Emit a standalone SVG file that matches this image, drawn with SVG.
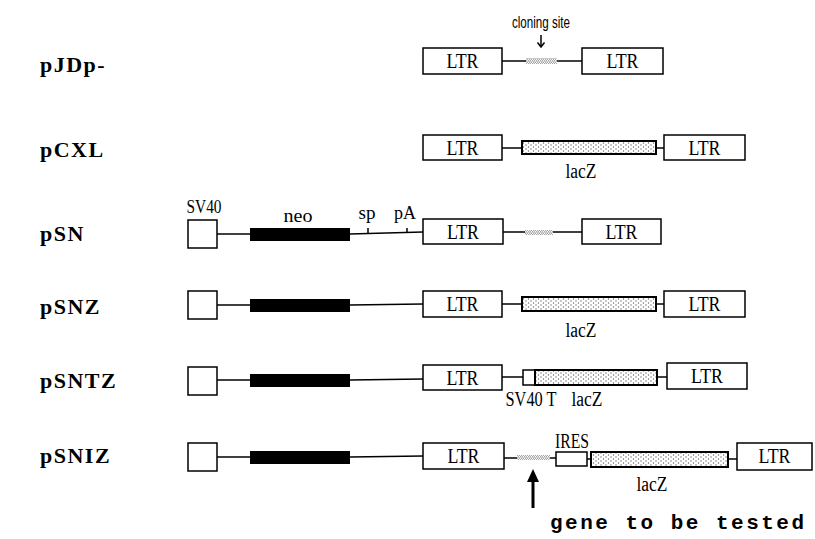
<svg xmlns="http://www.w3.org/2000/svg" width="815" height="539" viewBox="0 0 815 539">
<style>
.lbl{font-family:"Liberation Serif",serif;font-weight:bold;font-size:22px;letter-spacing:1.5px}
.sm{font-family:"Liberation Serif",serif;font-size:20px}
.box{fill:#fff;stroke:#000;stroke-width:1.5}
.ln{stroke:#000;stroke-width:1.5;fill:none}
.dot{fill:url(#dots);stroke:#000;stroke-width:2}
.neo{fill:#000}
.hatch{fill:url(#hat);stroke:none}
</style>
<defs>
<pattern id="dots" width="5" height="4" patternUnits="userSpaceOnUse">
<rect width="5" height="4" fill="#fff"/>
<circle cx="1" cy="1" r="0.7" fill="#666"/>
<circle cx="3.5" cy="3" r="0.7" fill="#666"/>
</pattern>
<pattern id="hat" width="4" height="3" patternUnits="userSpaceOnUse">
<rect width="4" height="3" fill="#fff"/>
<path d="M0 0 L2 3 M2 0 L4 3" stroke="#777" stroke-width="0.8"/>
</pattern>
</defs>

<g id="labels">
<text class="lbl" x="40" y="72">pJDp-</text>
<text class="lbl" x="40" y="157">pCXL</text>
<text class="lbl" x="40" y="241">pSN</text>
<text class="lbl" x="40" y="314">pSNZ</text>
<text class="lbl" x="40" y="388">pSNTZ</text>
<text class="lbl" x="40" y="463">pSNIZ</text>
</g>

<g id="connectors">
<line class="ln" x1="502" y1="61" x2="582" y2="61"/>
<line class="ln" x1="541" y1="35" x2="541" y2="47"/>
<path class="ln" d="M537.5 42.5 L541 47 L544.5 42.5"/>
<line class="ln" x1="502" y1="148" x2="522" y2="148"/>
<line class="ln" x1="656" y1="148" x2="664" y2="148"/>
<line class="ln" x1="217" y1="234" x2="250" y2="234"/>
<line class="ln" x1="350" y1="234" x2="423" y2="232"/>
<line class="ln" x1="368" y1="228" x2="368" y2="234"/>
<line class="ln" x1="407" y1="228" x2="407" y2="233"/>
<line class="ln" x1="502" y1="232" x2="582" y2="232"/>
<line class="ln" x1="217" y1="305" x2="250" y2="305"/>
<line class="ln" x1="350" y1="305" x2="423" y2="304"/>
<line class="ln" x1="502" y1="304" x2="522" y2="304"/>
<line class="ln" x1="656" y1="304" x2="664" y2="304"/>
<line class="ln" x1="217" y1="380" x2="250" y2="380"/>
<line class="ln" x1="350" y1="380" x2="423" y2="379"/>
<line class="ln" x1="502" y1="377" x2="523" y2="377"/>
<line class="ln" x1="657" y1="377" x2="667" y2="377"/>
<line class="ln" x1="217" y1="457" x2="250" y2="457"/>
<line class="ln" x1="350" y1="457" x2="423" y2="456"/>
<line class="ln" x1="504" y1="458" x2="556" y2="458"/>
<line class="ln" x1="587" y1="459" x2="591" y2="459"/>
<line class="ln" x1="728" y1="459" x2="737" y2="459"/>
<line x1="533" y1="508" x2="533" y2="480" stroke="#000" stroke-width="3"/>
<path d="M533 469 L527 482 L539 482 Z" fill="#000"/>
</g>

<g id="pJDp">
<rect class="box" x="423" y="48" width="79" height="26"/>
<text class="sm" x="462.5" y="68" text-anchor="middle" textLength="32" lengthAdjust="spacingAndGlyphs">LTR</text>
<rect class="hatch" x="526" y="58" width="31" height="6"/>
<rect class="box" x="582" y="48" width="81" height="26"/>
<text class="sm" x="622.5" y="68" text-anchor="middle" textLength="32" lengthAdjust="spacingAndGlyphs">LTR</text>
<text x="541" y="28" text-anchor="middle" font-family="Liberation Sans, sans-serif" font-size="16" textLength="58" lengthAdjust="spacingAndGlyphs">cloning site</text>
</g>

<g id="pCXL">
<rect class="box" x="423" y="135" width="79" height="25"/>
<text class="sm" x="462.5" y="155" text-anchor="middle" textLength="32" lengthAdjust="spacingAndGlyphs">LTR</text>
<rect class="dot" x="522" y="141" width="134" height="13"/>
<rect class="box" x="664" y="135" width="81" height="25"/>
<text class="sm" x="704.5" y="155" text-anchor="middle" textLength="32" lengthAdjust="spacingAndGlyphs">LTR</text>
<text class="sm" x="581" y="178" text-anchor="middle" textLength="31" lengthAdjust="spacingAndGlyphs">lacZ</text>
</g>

<g id="pSN">
<rect class="box" x="188" y="220" width="29" height="28"/>
<text x="204" y="213" text-anchor="middle" font-family="Liberation Serif, serif" font-size="18" textLength="35" lengthAdjust="spacingAndGlyphs">SV40</text>
<rect class="neo" x="250" y="228" width="100" height="13"/>
<text x="298" y="222" text-anchor="middle" font-family="Liberation Serif, serif" font-size="18" textLength="29" lengthAdjust="spacingAndGlyphs">neo</text>
<text x="367" y="219" text-anchor="middle" font-family="Liberation Serif, serif" font-size="18" textLength="17" lengthAdjust="spacingAndGlyphs">sp</text>
<text x="405" y="219" text-anchor="middle" font-family="Liberation Serif, serif" font-size="18" textLength="22" lengthAdjust="spacingAndGlyphs">pA</text>
<rect class="box" x="423" y="219" width="80" height="25"/>
<text class="sm" x="463" y="239" text-anchor="middle" textLength="32" lengthAdjust="spacingAndGlyphs">LTR</text>
<rect class="hatch" x="525" y="230" width="28" height="5"/>
<rect class="box" x="582" y="219" width="79" height="25"/>
<text class="sm" x="621.5" y="239" text-anchor="middle" textLength="32" lengthAdjust="spacingAndGlyphs">LTR</text>
</g>

<g id="pSNZ">
<rect class="box" x="188" y="291" width="29" height="28"/>
<rect class="neo" x="250" y="299" width="100" height="13"/>
<rect class="box" x="423" y="291" width="79" height="26"/>
<text class="sm" x="462.5" y="311" text-anchor="middle" textLength="32" lengthAdjust="spacingAndGlyphs">LTR</text>
<rect class="dot" x="522" y="297" width="134" height="14"/>
<rect class="box" x="664" y="291" width="81" height="26"/>
<text class="sm" x="704.5" y="311" text-anchor="middle" textLength="32" lengthAdjust="spacingAndGlyphs">LTR</text>
<text class="sm" x="581" y="337" text-anchor="middle" textLength="31" lengthAdjust="spacingAndGlyphs">lacZ</text>
</g>

<g id="pSNTZ">
<rect class="box" x="188" y="367" width="29" height="28"/>
<rect class="neo" x="250" y="374" width="100" height="13"/>
<rect class="box" x="423" y="365" width="79" height="25"/>
<text class="sm" x="462.5" y="385" text-anchor="middle" textLength="32" lengthAdjust="spacingAndGlyphs">LTR</text>
<rect class="box" x="523" y="370" width="12" height="15"/>
<rect class="dot" x="535" y="370" width="122" height="15"/>
<rect class="box" x="667" y="363" width="80" height="26"/>
<text class="sm" x="707" y="383" text-anchor="middle" textLength="32" lengthAdjust="spacingAndGlyphs">LTR</text>
<text class="sm" x="531" y="406" text-anchor="middle" textLength="51" lengthAdjust="spacingAndGlyphs">SV40 T</text>
<text class="sm" x="587" y="406" text-anchor="middle" textLength="31" lengthAdjust="spacingAndGlyphs">lacZ</text>
</g>

<g id="pSNIZ">
<rect class="box" x="188" y="443" width="29" height="28"/>
<rect class="neo" x="250" y="451" width="100" height="13"/>
<rect class="box" x="423" y="443" width="81" height="26"/>
<text class="sm" x="463.5" y="463" text-anchor="middle" textLength="32" lengthAdjust="spacingAndGlyphs">LTR</text>
<rect class="hatch" x="517" y="455" width="33" height="5"/>
<rect class="box" x="556" y="452" width="31" height="14"/>
<text class="sm" x="572" y="448" text-anchor="middle" textLength="34" lengthAdjust="spacingAndGlyphs">IRES</text>
<rect class="dot" x="591" y="452" width="137" height="15"/>
<rect class="box" x="737" y="443" width="75" height="27"/>
<text class="sm" x="774.5" y="463" text-anchor="middle" textLength="32" lengthAdjust="spacingAndGlyphs">LTR</text>
<text class="sm" x="652" y="491" text-anchor="middle" textLength="31" lengthAdjust="spacingAndGlyphs">lacZ</text>
<text x="550" y="529" font-family="Liberation Mono, monospace" font-weight="bold" font-size="21" textLength="254" lengthAdjust="spacing">gene to be tested</text>
</g>
</svg>
